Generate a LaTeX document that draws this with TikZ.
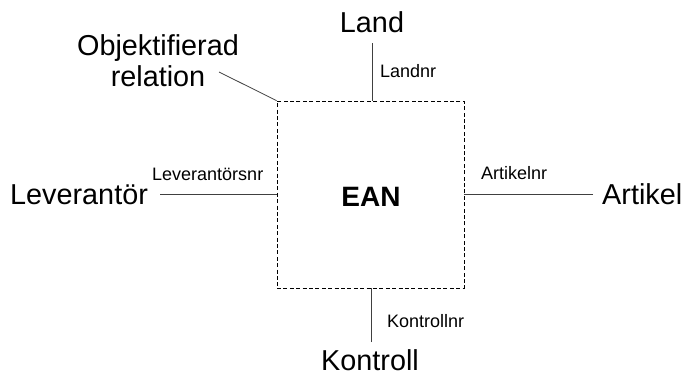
\documentclass[tikz,border=0pt]{standalone}
\usepackage{fontspec}
\setmainfont{Liberation Sans}
\begin{document}
\begin{tikzpicture}[x=1pt,y=-1pt,
  big/.style={inner sep=0pt,font=\fontsize{28.8}{31}\selectfont},
  small/.style={inner sep=0pt,font=\fontsize{18}{20}\selectfont},
  link/.style={draw=black!75,line width=0.8pt},
  entity/.style={draw,dash pattern=on 4pt off 2.4pt,line width=0.7pt,minimum width=187pt,minimum height=187pt,inner sep=0pt}]
\useasboundingbox (0,0) rectangle (695,381);
% central entity box
\node[entity] (ean) at (370.5,194.5) {};
\node[inner sep=0pt,font=\fontsize{28}{30}\selectfont\bfseries,anchor=base] (eanlabel) at (371,206) {EAN};
% outer entities
\node[big,anchor=base] (land) at (372,32) {Land};
\node[big,anchor=base west] (lev) at (10,204) {Leverantör};
\node[big,anchor=base west] (art) at (602,204) {Artikel};
\node[big,anchor=base] (kon) at (370,370) {Kontroll};
\node[big,align=center,anchor=north] (obj) at (158,34) {Objektifierad\\relation};
% key labels
\node[small,anchor=base west] (landnr) at (380,77) {Landnr};
\node[small,anchor=base west] (levnr) at (152,180) {Leverantörsnr};
\node[small,anchor=base west] (artnr) at (481,179) {Artikelnr};
\node[small,anchor=base west] (konnr) at (387,327) {Kontrollnr};
% connectors
\coordinate (landend) at (372,43);
\coordinate (levend) at (160,194.5);
\coordinate (artend) at (593,194.5);
\coordinate (konend) at (371,342);
\coordinate (objend) at (219,72);
\draw[link] (landend) -- (ean.north -| landend);
\draw[link] (levend) -- (ean.west |- levend);
\draw[link] (artend) -- (ean.east |- artend);
\draw[link] (konend) -- (ean.south -| konend);
\draw[link] (objend) -- (ean.north west);
\end{tikzpicture}
\end{document}
